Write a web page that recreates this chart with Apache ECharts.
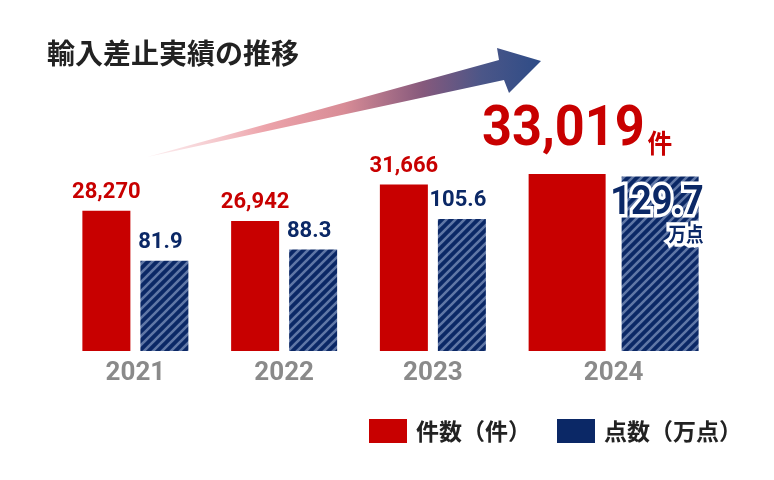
<!DOCTYPE html>
<html>
<head>
<meta charset="utf-8">
<script src="https://cdn.jsdelivr.net/npm/echarts@6/dist/echarts.min.js"></script>
<style>
  html, body { margin: 0; padding: 0; background: #fff; }
  #main { width: 774px; height: 480px; }
</style>
</head>
<body>
<div id="main"></div>
<script>
// データ
const years = ['2021', '2022', '2023', '2024']
const cases = [28270, 26942, 31666, 33019]
const points = [81.9, 88.3, 105.6, 129.7]
const seriesNames = ['件数（件）', '点数（万点）']
const titleText = '輸入差止実績の推移'
const highlightYear = '2024'
const caseUnit = '件'
const pointUnit = '万点'

const RED = '#c80000'
const NAVY = '#0b2866'
const NUM_FONT = 'Roboto'
const JP_FONT = '"Noto Sans CJK JP"'

// 棒の幅（強調年は太く）
const barW = 48
const barGap = 10
const hlBarW = 77
const hlGap = 16

// 斜線パターン
function makeStripe() {
  const s = 9
  const c = document.createElement('canvas')
  c.width = s
  c.height = s
  const ctx = c.getContext('2d')
  ctx.fillStyle = NAVY
  ctx.fillRect(0, 0, s, s)
  ctx.strokeStyle = '#6077a6'
  ctx.lineWidth = 2.6
  ctx.beginPath()
  ctx.moveTo(-s / 2, s / 2); ctx.lineTo(s / 2, -s / 2)
  ctx.moveTo(0, s); ctx.lineTo(s, 0)
  ctx.moveTo(s / 2, s * 1.5); ctx.lineTo(s * 1.5, s / 2)
  ctx.stroke()
  return c
}
const stripe = { image: makeStripe(), repeat: 'repeat' }

function groupLayout(idx, api) {
  const hl = years[idx] === highlightYear
  const w = hl ? hlBarW : barW
  const gap = hl ? hlGap : barGap
  const groupW = w * 2 + gap
  const shift = (groupW - (barW * 2 + barGap)) / 2
  const cx = api.coord([idx, 0])[0] + shift
  return { hl, w, gap, groupW, cx }
}

function renderCases(params, api) {
  const idx = api.value(0)
  const v = api.value(1)
  const L = groupLayout(idx, api)
  const base = params.coordSys.y + params.coordSys.height
  const top = api.coord([idx, v])[1]
  const x = L.cx - L.groupW / 2
  const children = [{
    type: 'rect',
    shape: { x: x, y: top, width: L.w, height: base - top },
    style: { fill: RED }
  }]
  if (L.hl) {
    children.push({
      type: 'text',
      x: x + L.w / 2 + 10,
      y: top - 15,
      scaleX: 0.95,
      style: {
        text: '{b|' + v.toLocaleString('en-US') + '}{u|' + caseUnit + '}',
        align: 'center',
        verticalAlign: 'bottom',
        rich: {
          b: { fontSize: 55, fontWeight: 'bold', fontFamily: NUM_FONT, fill: RED, lineHeight: 55 },
          u: { fontSize: 26, fontWeight: 'bold', fontFamily: JP_FONT, fill: RED, verticalAlign: 'bottom', padding: [0, 0, 3, 3] }
        }
      }
    })
  } else {
    children.push({
      type: 'text',
      x: x + L.w / 2,
      y: top - 7,
      style: {
        text: v.toLocaleString('en-US'),
        align: 'center',
        verticalAlign: 'bottom',
        fontSize: 22, fontWeight: 'bold', fontFamily: NUM_FONT, fill: RED
      }
    })
  }
  return { type: 'group', children }
}

function pointLabel(v, halo) {
  const c = halo ? '#fff' : NAVY
  const extra = halo ? { stroke: '#fff', lineWidth: 7 } : {}
  return {
    text: '{b|' + v.toFixed(1) + '}\n{u|' + pointUnit + '}',
    align: 'right',
    verticalAlign: 'top',
    rich: {
      b: Object.assign({ fontSize: 41, fontWeight: 'bold', fontFamily: NUM_FONT, fill: c, lineHeight: 37 }, extra),
      u: Object.assign({ fontSize: 20, fontWeight: 'bold', fontFamily: JP_FONT, fill: c, lineHeight: 24 }, extra)
    }
  }
}

function renderPoints(params, api) {
  const idx = api.value(0)
  const v = api.value(1)
  const L = groupLayout(idx, api)
  const base = params.coordSys.y + params.coordSys.height
  const top = api.coord([idx, v])[1]
  const x = L.cx - L.groupW / 2 + L.w + L.gap
  const children = [{
    type: 'rect',
    shape: { x: x, y: top, width: L.w, height: base - top },
    style: { fill: stripe }
  }]
  if (L.hl) {
    // 白いふちどり + 本体
    const tx = x + L.w + 5
    const ty = top + 9
    children.push({ type: 'text', x: tx, y: ty, scaleX: 0.88, style: pointLabel(v, true) })
    children.push({ type: 'text', x: tx, y: ty, scaleX: 0.88, style: pointLabel(v, false) })
  } else {
    children.push({
      type: 'text',
      x: x + L.w / 2 - 4,
      y: top - 7,
      style: {
        text: v.toFixed(1),
        align: 'center',
        verticalAlign: 'bottom',
        fontSize: 22, fontWeight: 'bold', fontFamily: NUM_FONT, fill: NAVY
      }
    })
  }
  return { type: 'group', children }
}

const chart = echarts.init(document.getElementById('main'), null, { renderer: 'canvas' })

const hlPad = (hlBarW * 2 + hlGap) - (barW * 2 + barGap)

const option = {
  animation: false,
  backgroundColor: '#fff',
  grid: { left: 61, right: 118, top: 100, bottom: 129 },
  xAxis: {
    type: 'category',
    data: years,
    axisLine: { show: false },
    axisTick: { show: false },
    axisLabel: {
      margin: 9,
      fontSize: 26,
      fontWeight: 'bold',
      fontFamily: NUM_FONT,
      color: '#8a8a8a',
      formatter: (val) => val === highlightYear ? '{h|' + val + '}' : val,
      rich: {
        h: { fontSize: 26, fontWeight: 'bold', fontFamily: NUM_FONT, color: '#8a8a8a', padding: [0, 0, 0, hlPad] }
      }
    }
  },
  yAxis: [
    { type: 'value', show: false, min: 10100, max: 42600, splitLine: { show: false } },
    { type: 'value', show: false, min: 30.7, max: 173, splitLine: { show: false } }
  ],
  legend: {
    left: 364,
    top: 414,
    icon: 'rect',
    itemWidth: 38,
    itemHeight: 24,
    itemGap: 26,
    textStyle: { fontSize: 23, fontWeight: 'bold', fontFamily: JP_FONT, color: '#222', padding: [0, 0, 0, 4] },
    data: seriesNames
  },
  graphic: [
    {
      type: 'text',
      left: 47,
      top: 39,
      style: { text: titleText, fontSize: 28, fontWeight: 'bold', fontFamily: JP_FONT, fill: '#222' }
    },
    {
      // 増加を示す矢印
      type: 'polygon',
      z: -1,
      shape: {
        points: [[147, 157], [499, 60], [497, 48], [541, 61], [509, 93], [504, 80]]
      },
      style: {
        fill: new echarts.graphic.LinearGradient(0, 0, 1, 0, [
          { offset: 0, color: 'rgba(246, 200, 205, 0.3)' },
          { offset: 0.3, color: '#eca3aa' },
          { offset: 0.5, color: '#d88c96' },
          { offset: 0.7, color: '#86597c' },
          { offset: 0.85, color: '#4b5688' },
          { offset: 1, color: '#2e4c87' }
        ])
      }
    }
  ],
  series: [
    {
      name: seriesNames[0],
      type: 'custom',
      yAxisIndex: 0,
      itemStyle: { color: RED },
      encode: { x: 0, y: 1 },
      data: cases.map((v, i) => [i, v]),
      renderItem: renderCases
    },
    {
      name: seriesNames[1],
      type: 'custom',
      yAxisIndex: 1,
      itemStyle: { color: NAVY },
      encode: { x: 0, y: 1 },
      data: points.map((v, i) => [i, v]),
      renderItem: renderPoints
    }
  ]
}

chart.setOption(option)
</script>
</body>
</html>
